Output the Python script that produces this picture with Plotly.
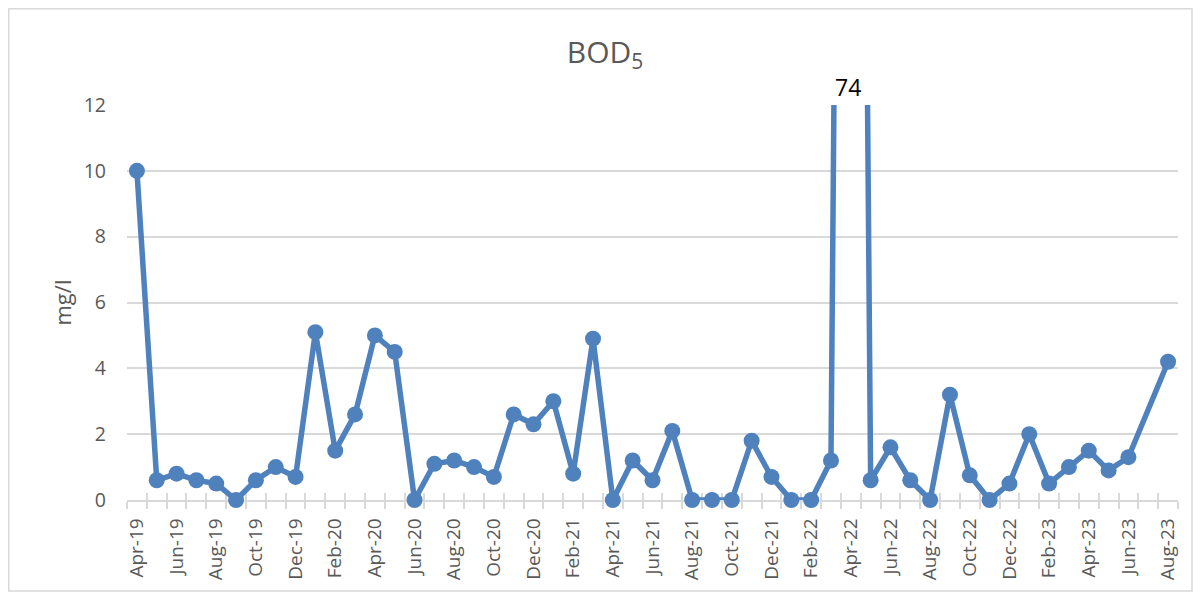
import plotly.graph_objects as go

months = ["Apr-19","May-19","Jun-19","Jul-19","Aug-19","Sep-19","Oct-19","Nov-19","Dec-19",
          "Jan-20","Feb-20","Mar-20","Apr-20","May-20","Jun-20","Jul-20","Aug-20","Sep-20","Oct-20","Nov-20","Dec-20",
          "Jan-21","Feb-21","Mar-21","Apr-21","May-21","Jun-21","Jul-21","Aug-21","Sep-21","Oct-21","Nov-21","Dec-21",
          "Jan-22","Feb-22","Mar-22","Apr-22","May-22","Jun-22","Jul-22","Aug-22","Sep-22","Oct-22","Nov-22","Dec-22",
          "Jan-23","Feb-23","Mar-23","Apr-23","May-23","Jun-23","Jul-23","Aug-23"]

bod5 = [10, 0.6, 0.8, 0.6, 0.5, 0, 0.6, 1.0, 0.7,
        5.1, 1.5, 2.6, 5.0, 4.5, 0, 1.1, 1.2, 1.0, 0.7, 2.6, 2.3,
        3.0, 0.8, 4.9, 0, 1.2, 0.6, 2.1, 0, 0, 0, 1.8, 0.7,
        0, 0, 1.2, 74, 0.6, 1.6, 0.6, 0, 3.2, 0.75, 0, 0.5,
        2.0, 0.5, 1.0, 1.5, 0.9, 1.3, None, 4.2]

y_ticks = [0, 2, 4, 6, 8, 10, 12]

FONT = "Open Sans"
GREY = "#595959"
GRID = "#d9d9d9"
BLUE = "#4f81bd"

W, H = 1194, 590          # page adds an 8px body margin
L, R, T, B = 119, 24, 97, 98
PW, PH = W - L - R, H - T - B

idx = list(range(len(months)))
label_idx = idx[::2]
label_txt = months[::2]

fig = go.Figure()
fig.add_trace(go.Scatter(
    x=idx, y=bod5, mode="lines+markers", connectgaps=True,
    line=dict(color=BLUE, width=5.5),
    marker=dict(color=BLUE, size=16),
    cliponaxis=False, showlegend=False, hoverinfo="skip",
))
# invisible trace for second (tick) axis
fig.add_trace(go.Scatter(x=[idx[0]], y=[0], xaxis="x2", mode="markers",
                         marker=dict(opacity=0), showlegend=False, hoverinfo="skip"))

peak_i = max(range(len(bod5)), key=lambda i: bod5[i] if bod5[i] is not None else -1)

fig.update_layout(
    width=W, height=H,
    margin=dict(l=L, r=R, t=T, b=B, autoexpand=False),
    paper_bgcolor="white", plot_bgcolor="white",
    font=dict(family=FONT, color=GREY),
    title=dict(text="BOD<sub>5</sub>", x=0.5, xref="container", xanchor="center",
               y=1 - 44 / H, yref="container", yanchor="middle",
               font=dict(family=FONT, size=30, color=GREY)),
    xaxis=dict(
        range=[-0.5, len(months) - 0.5], tickmode="array",
        tickvals=label_idx, ticktext=label_txt, tickangle=-90,
        tickfont=dict(family=FONT, size=19, color=GREY),
        ticks="", showgrid=False, zeroline=False, automargin=False,
        showline=True, linecolor=GRID, linewidth=1.5, layer="below traces",
        minor=dict(tick0=-0.5, dtick=1, ticks="outside", ticklen=7,
                   tickcolor=GRID, tickwidth=1.5, showgrid=False),
        ticklabelstandoff=9,
    ),
    xaxis2=dict(
        overlaying="x", matches="x", side="bottom", anchor="y",
        tick0=-0.5, dtick=1, tickmode="linear", ticks="inside", ticklen=7,
        tickcolor=GRID, tickwidth=1.5, showticklabels=False, automargin=False,
        showgrid=False, zeroline=False, showline=False, layer="below traces",
    ),
    yaxis=dict(
        range=[0, 12], tickmode="array", tickvals=y_ticks,
        tickfont=dict(family=FONT, size=19.5, color=GREY),
        showgrid=True, gridcolor=GRID, gridwidth=1.5, automargin=False,
        zeroline=False, ticks="", ticklabelstandoff=20, layer="below traces",
    ),
    annotations=[
        dict(text=str(bod5[peak_i]), x=peak_i, xref="x", y=1, yref="paper",
             yanchor="bottom", xanchor="center", showarrow=False, yshift=0,
             xshift=-3, font=dict(family=FONT, size=23, color="black")),
        dict(text="mg/l", textangle=-90, x=(53 - L) / PW, xref="paper",
             y=0.5, yref="paper", xanchor="center", yanchor="middle",
             showarrow=False, font=dict(family=FONT, size=22, color=GREY)),
    ],
    shapes=[
        dict(type="rect", xref="paper", yref="paper",
             x0=(0.75 - L) / PW, x1=(1184 - L) / PW,
             y0=(T + PH - 583) / PH, y1=(T + PH - 0.75) / PH,
             line=dict(color=GRID, width=1.5), fillcolor="rgba(0,0,0,0)", layer="below"),
    ],
)

fig.write_html("out.html")
